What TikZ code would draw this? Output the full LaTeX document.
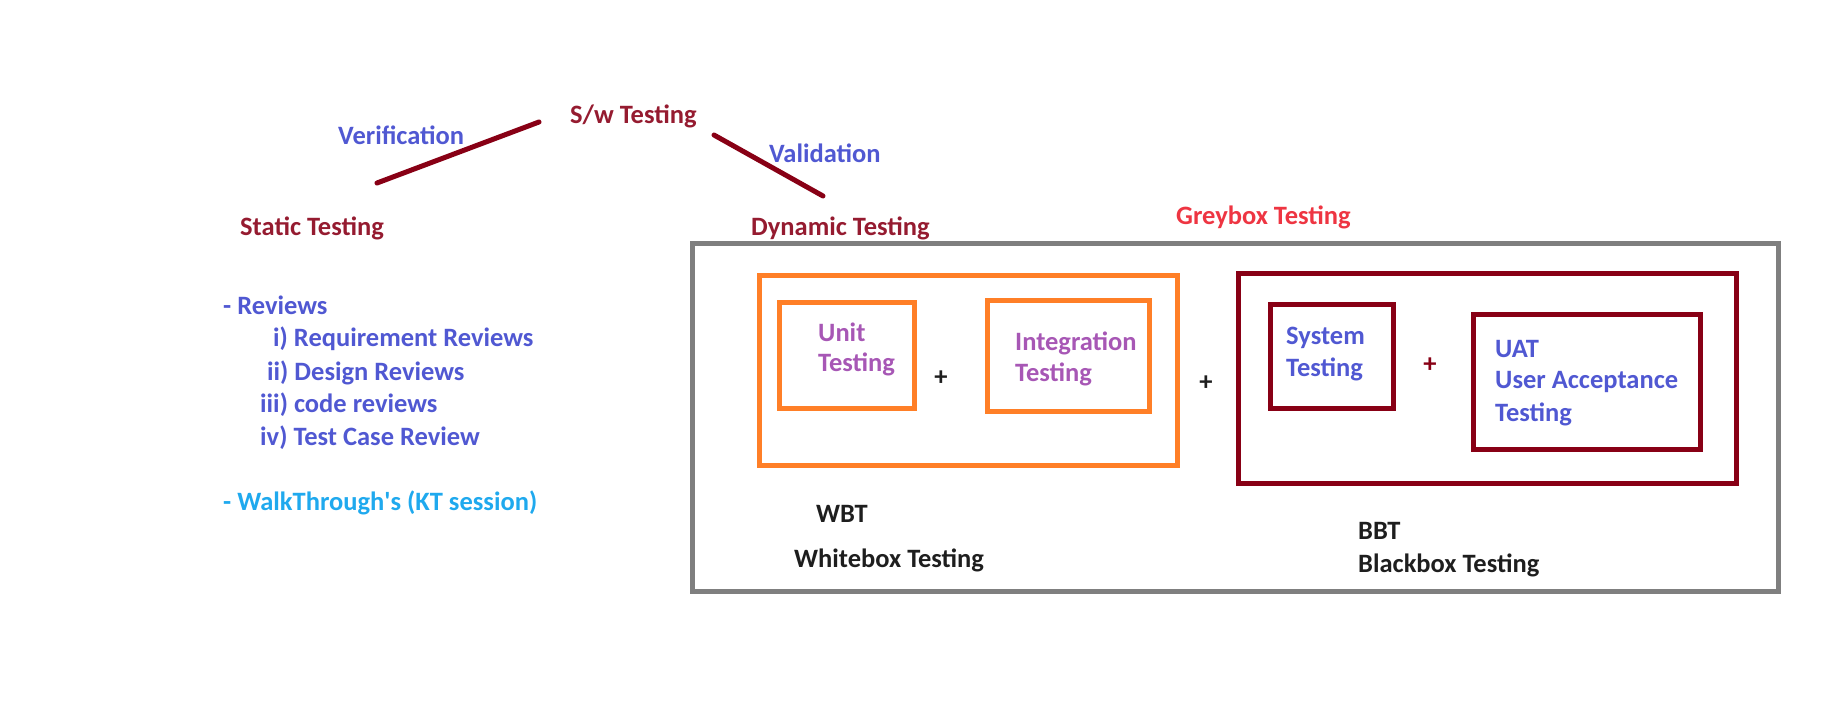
\documentclass[tikz,border=0pt]{standalone}
\usepackage{fontspec}
\setmainfont{Carlito}
\definecolor{dred}{HTML}{951B30}
\definecolor{lred}{HTML}{880015}
\definecolor{vblue}{HTML}{5058D2}
\definecolor{lblue}{HTML}{1FA9EE}
\definecolor{purp}{HTML}{A757B5}
\definecolor{gred}{HTML}{EE3542}
\definecolor{orng}{HTML}{FF7F27}
\definecolor{gryc}{HTML}{7F7F7F}
\definecolor{blk}{HTML}{1E1E1E}
\begin{document}
\begin{tikzpicture}[x=1pt,y=-1pt,
  txt/.style={font=\fontsize{26.5}{31}\selectfont\bfseries, inner sep=0pt, anchor=base west},
  plus/.style={font=\fontsize{26.5}{31}\selectfont\bfseries, inner sep=0pt, anchor=center},
  frame/.style={draw=#1, line width=5pt, minimum width=0pt, minimum height=0pt, inner sep=0pt},
  link/.style={draw=lred, line width=5pt, line cap=round}]
\useasboundingbox (0,0) rectangle (1842,726);
% boxes
\node[frame=gryc, minimum width=1086pt, minimum height=348pt] (dyn) at (1235,417) {};
\node[frame=orng, minimum width=418pt, minimum height=190pt] (wbox) at (968,370) {};
\node[frame=orng, minimum width=135pt, minimum height=106pt] (ubox) at (846.5,355) {};
\node[frame=orng, minimum width=162pt, minimum height=111pt] (ibox) at (1068,355.5) {};
\node[frame=lred, minimum width=498pt, minimum height=210pt] (bbox) at (1487,378) {};
\node[frame=lred, minimum width=123pt, minimum height=104pt] (sbox) at (1331.5,356) {};
\node[frame=lred, minimum width=227pt, minimum height=135pt] (abox) at (1586.5,381.5) {};
% top
\node[txt, text=dred] (sw) at (570,123) {S/w Testing};
\node[txt, text=vblue] (verif) at (338,144) {Verification};
\node[txt, text=vblue] (valid) at (769,162) {Validation};
\coordinate (v1) at (377,183);
\coordinate (v2) at (539,122);
\coordinate (d1) at (714,135);
\coordinate (d2) at (823,196);
\draw[link] (v1) -- (v2);
\draw[link] (d1) -- (d2);
\node[txt, text=dred] (static) at (240,235) {Static Testing};
\node[txt, text=dred] (dynamic) at (751,235) {Dynamic Testing};
\node[txt, text=gred] (grey) at (1176,224) {Greybox Testing};
% static list
\node[txt, text=vblue] (rev) at (223,314) {- Reviews};
\node[txt, text=vblue] (r1) at (273,346) {i) Requirement Reviews};
\node[txt, text=vblue] (r2) at (267,380) {ii) Design Reviews};
\node[txt, text=vblue] (r3) at (260,412) {iii) code reviews};
\node[txt, text=vblue] (r4) at (260,445) {iv) Test Case Review};
\node[txt, text=lblue] (walk) at (223,510) {- WalkThrough\textquotesingle s (KT session)};
% white box
\node[txt, text=purp] (u1) at (818,341) {Unit};
\node[txt, text=purp] (u2) at (818,371) {Testing};
\node[txt, text=purp] (i1) at (1015,350) {Integration};
\node[txt, text=purp] (i2) at (1015,381) {Testing};
\node[plus, text=blk] (p1) at (941,378) {+};
\node[plus, text=blk] (p2) at (1206,383) {+};
% black box
\node[txt, text=vblue] (s1) at (1286,344) {System};
\node[txt, text=vblue] (s2) at (1286,376) {Testing};
\node[plus, text=lred] (p3) at (1430,365) {+};
\node[txt, text=vblue] (a1) at (1495,357) {UAT};
\node[txt, text=vblue] (a2) at (1495,388) {User Acceptance};
\node[txt, text=vblue] (a3) at (1495,421) {Testing};
% labels
\node[txt, text=blk] (wbt) at (816,522) {WBT};
\node[txt, text=blk] (wbtl) at (794,567) {Whitebox Testing};
\node[txt, text=blk] (bbt) at (1358,539) {BBT};
\node[txt, text=blk] (bbtl) at (1358,572) {Blackbox Testing};
\end{tikzpicture}
\end{document}
